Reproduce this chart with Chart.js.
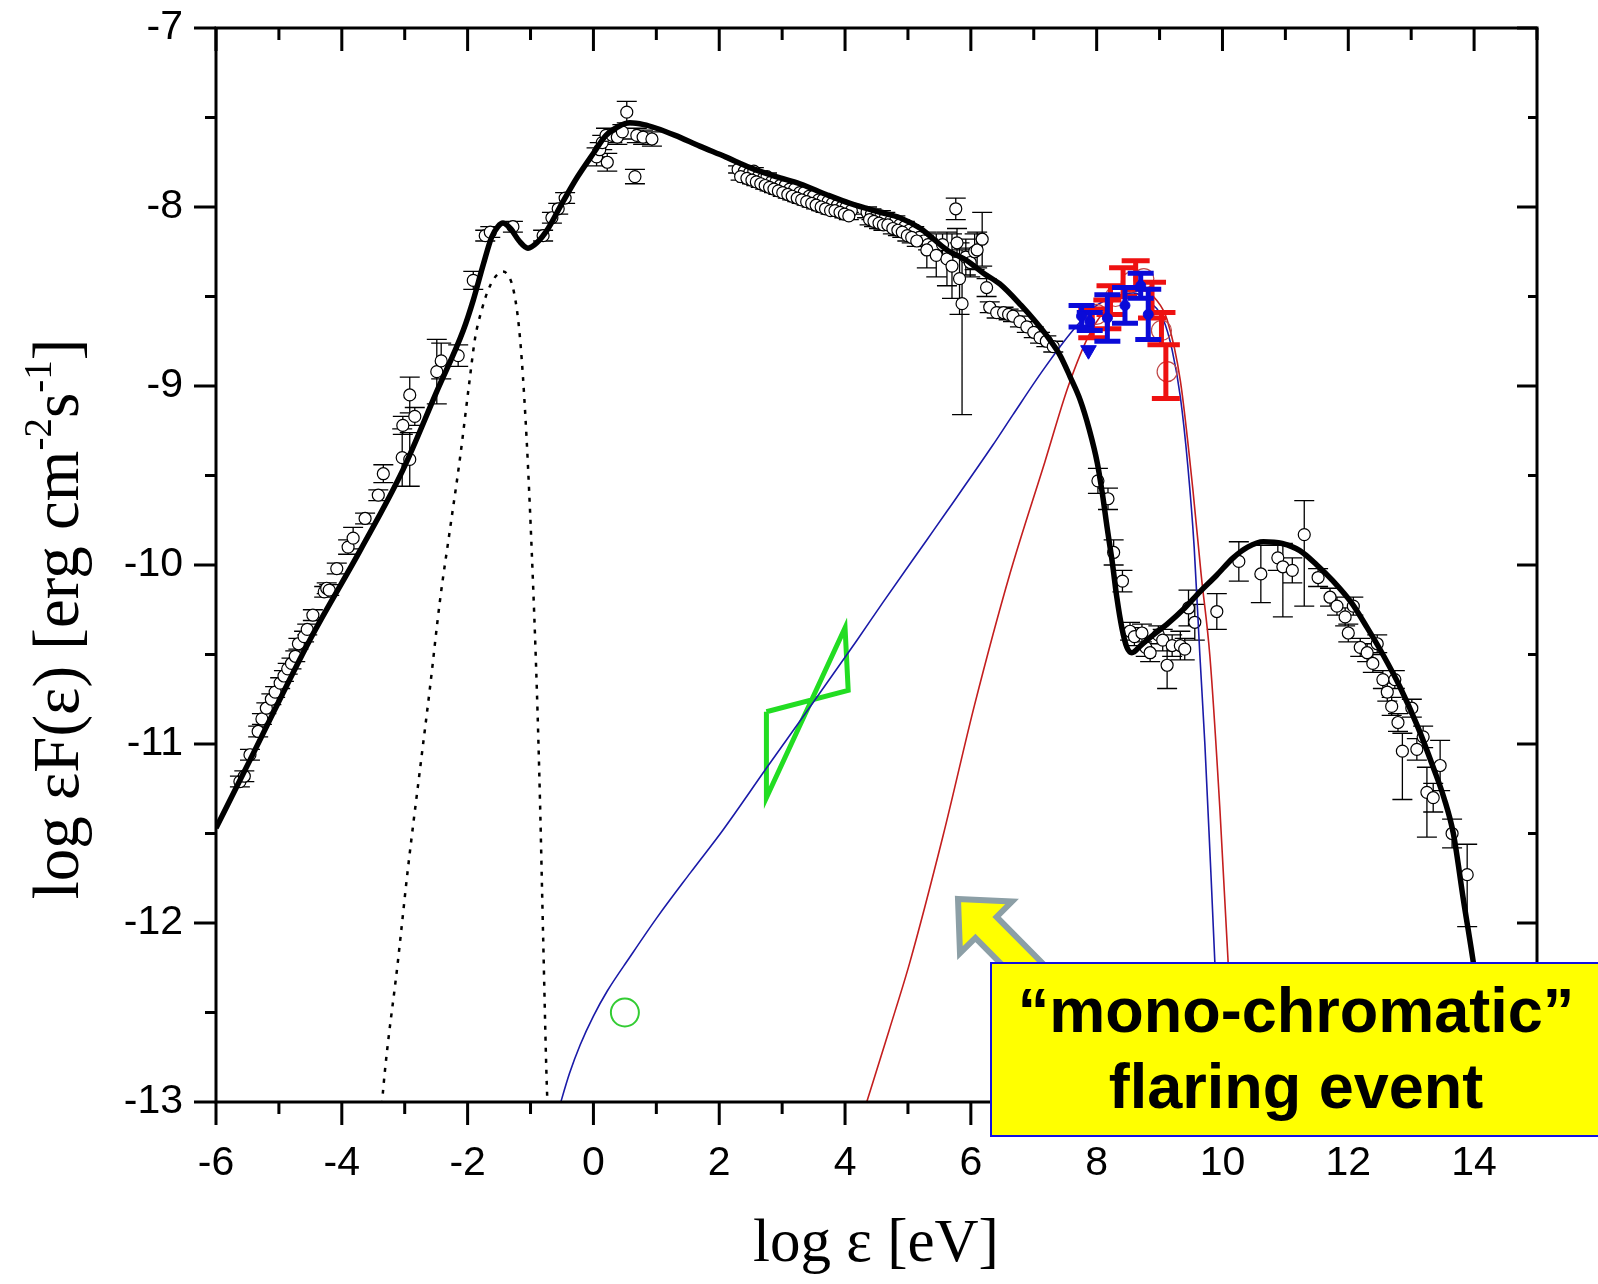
<!DOCTYPE html>
<html>
<head>
<meta charset="utf-8">
<title>SED flaring event</title>
<script src="https://cdn.jsdelivr.net/npm/chart.js@4.4.1/dist/chart.umd.min.js"></script>
<style>
  html, body { margin: 0; padding: 0; background: #fff; overflow: hidden; }
  #wrap { position: relative; width: 1598px; height: 1284px; }
  #sed { position: absolute; left: 0; top: 0; }
  #arrow { position: absolute; left: 0; top: 0; }
  #note {
    position: absolute; left: 990px; top: 962px; width: 612px; height: 175px;
    box-sizing: border-box; background: #ffff00; border: 2px solid #1010e0;
    font: bold 63px "Liberation Sans", Arial, sans-serif; line-height: 76px;
    text-align: center; padding-top: 8px; color: #000; white-space: nowrap;
  }
</style>
</head>
<body>
<div id="wrap">
  <canvas id="sed" width="1598" height="1284"></canvas>
  <svg id="arrow" width="1598" height="1284">
    <polygon points="958,899 1012,901.5 996.6,916.9 1052.6,973.5 1031.4,994.5 975.4,937.9 960,953"
             fill="#ffff00" stroke="#8c9fa6" stroke-width="6" stroke-linejoin="miter"/>
  </svg>
  <div id="note">“mono-chromatic”<br>flaring event</div>
</div>
<script>
// observed SED points (open circles) - log eps, log eps F(eps), error
const obsX = [
  // radio / mm
  -5.62, -5.55, -5.46, -5.33, -5.27, -5.20, -5.12, -5.06, -4.98, -4.92, -4.86, -4.80, -4.74, -4.69,
  -4.60, -4.55, -4.46, -4.28, -4.24, -4.20, -4.08, -3.90, -3.82, -3.63, -3.42, -3.34, -3.04, -2.92,
  -3.03, -2.84, -2.92, -2.49, -2.42, -2.15, -1.91, -1.72, -1.64, -1.28, -0.80, -0.66, -0.56, -0.45,
  // optical / UV
  0.05, 0.10, 0.14, 0.20, 0.22, 0.30, 0.38, 0.46, 0.53, 0.66, 0.69, 0.79, 0.93,
  // X-ray band
  2.30, 2.40, 2.48, 2.55, 2.62, 2.70, 2.76, 2.83, 2.90, 2.97, 3.05, 3.12, 3.20, 3.28, 3.35, 3.43,
  3.50, 3.58, 3.65, 3.73, 3.80, 3.88, 3.95, 4.02, 4.10,
  2.34, 2.44, 2.52, 2.59, 2.66, 2.73, 2.80, 2.87, 2.94, 3.01, 3.09, 3.16, 3.24, 3.31, 3.39, 3.47,
  3.54, 3.62, 3.69, 3.77, 3.84, 3.92, 3.99, 4.06,
  4.35, 4.42, 4.50, 4.57, 4.64, 4.72, 4.80, 4.87, 4.95, 5.02, 5.10, 5.18, 5.25, 5.32, 5.40,
  4.39, 4.46, 4.54, 4.61, 4.68, 4.76, 4.84, 4.91, 4.99, 5.06, 5.14,
  // hard X-ray
  5.30, 5.45, 5.55, 5.62, 5.70, 5.76, 5.78, 5.82, 5.86, 5.92, 5.99, 6.06, 6.10, 6.18, 6.25,
  6.30, 6.41, 6.52, 6.60, 6.67, 6.78, 6.89, 7.00, 7.10, 7.20, 7.31,
  // gamma-ray
  8.02, 8.18, 8.27, 8.41, 8.53, 8.60, 8.72, 8.78, 8.85, 8.98, 9.05, 9.12, 9.20, 9.33, 9.40, 9.46,
  9.56, 9.91,
  // TeV
  10.26, 10.61, 10.88, 10.96, 11.11, 11.30, 11.52, 11.71, 11.82, 11.95, 12.00, 12.08, 12.19, 12.30,
  12.39, 12.46, 12.55, 12.62, 12.69, 12.74, 12.79, 12.86, 13.01, 13.09, 13.19, 13.25, 13.35, 13.46,
  13.65, 13.89
];
const obsY = [
  -11.21, -11.18, -11.06, -10.93, -10.86, -10.80, -10.75, -10.71, -10.66, -10.62, -10.58, -10.55, -10.51, -10.44,
  -10.40, -10.36, -10.28, -10.15, -10.13, -10.14, -10.02, -9.90, -9.85, -9.74, -9.61, -9.49, -9.40, -9.41,
  -9.22, -9.17, -9.05, -8.92, -8.86, -8.83, -8.41, -8.16, -8.14, -8.11, -8.16, -8.06, -8.01, -7.95,
  -7.72, -7.68, -7.64, -7.60, -7.75, -7.60, -7.61, -7.58, -7.47, -7.83, -7.60, -7.61, -7.62,
  -7.79, -7.80, -7.81, -7.80, -7.83, -7.84, -7.83, -7.86, -7.86, -7.88, -7.88, -7.90, -7.90, -7.92, -7.92, -7.94,
  -7.94, -7.96, -7.96, -7.97, -7.98, -7.99, -8.00, -8.00, -8.02,
  -7.83, -7.84, -7.85, -7.86, -7.87, -7.88, -7.89, -7.90, -7.91, -7.92, -7.93, -7.94, -7.95, -7.96, -7.97, -7.98,
  -7.99, -8.00, -8.01, -8.02, -8.02, -8.03, -8.04, -8.05,
  -8.03, -8.04, -8.05, -8.05, -8.06, -8.08, -8.08, -8.10, -8.11, -8.13, -8.14, -8.17, -8.19, -8.21, -8.22,
  -8.07, -8.08, -8.09, -8.10, -8.10, -8.12, -8.13, -8.14, -8.16, -8.17, -8.19,
  -8.24, -8.27, -8.21, -8.29, -8.33, -8.01, -8.20, -8.40, -8.54, -8.28, -8.31, -8.25, -8.24, -8.18, -8.45,
  -8.56, -8.59, -8.59, -8.60, -8.61, -8.64, -8.67, -8.70, -8.73, -8.75, -8.78,
  -9.53, -9.63, -9.93, -10.09, -10.37, -10.40, -10.38, -10.46, -10.49, -10.39, -10.42, -10.56, -10.45, -10.45, -10.47, -10.24,
  -10.32, -10.26,
  -9.98, -10.05, -9.96, -10.01, -10.03, -9.83, -10.07, -10.18, -10.23, -10.29, -10.38, -10.23, -10.46, -10.49,
  -10.55, -10.44, -10.64, -10.71, -10.79, -10.64, -10.88, -11.04, -10.80, -11.03, -10.96, -11.27, -11.30, -11.12,
  -11.50, -11.73
];
// symmetric error, or [down, up]
const obsErr = [
  0.03, 0.03, 0.03, 0.03, 0.03, 0.03, 0.03, 0.03, 0.03, 0.03, 0.03, 0.03, 0.03, 0.03,
  0.03, 0.03, 0.03, 0.03, 0.03, 0.03, 0.03, 0.04, 0.06, 0.03, 0.03, 0.05, 0.16, 0.15,
  0.05, 0.05, 0.10, 0.18, 0.10, 0.06, 0.05, 0.03, 0.03, 0.03, 0.03, 0.03, 0.03, 0.03,
  0.05, 0.04, 0.04, 0.04, 0.05, 0.04, 0.04, 0.04, 0.06, 0.04, 0.04, 0.04, 0.04,
  0.02, 0.02, 0.02, 0.02, 0.02, 0.02, 0.02, 0.02, 0.02, 0.02, 0.02, 0.02, 0.02, 0.02, 0.02, 0.02,
  0.02, 0.02, 0.02, 0.02, 0.02, 0.02, 0.02, 0.02, 0.02,
  0.02, 0.02, 0.02, 0.02, 0.02, 0.02, 0.02, 0.02, 0.02, 0.02, 0.02, 0.02, 0.02, 0.02, 0.02, 0.02,
  0.02, 0.02, 0.02, 0.02, 0.02, 0.02, 0.02, 0.02,
  0.03, 0.03, 0.03, 0.03, 0.03, 0.03, 0.03, 0.03, 0.03, 0.03, 0.03, 0.03, 0.03, 0.03, 0.03,
  0.03, 0.03, 0.03, 0.03, 0.03, 0.03, 0.03, 0.03, 0.03, 0.03, 0.03,
  0.10, 0.12, 0.06, 0.15, 0.18, 0.06, 0.08, 0.20, [0.62, 0.30], 0.10, 0.08, 0.10, 0.10, 0.15, 0.05,
  0.03, 0.03, 0.03, 0.03, 0.03, 0.03, 0.03, 0.03, 0.03, 0.03, 0.03,
  0.07, 0.06, 0.07, 0.06, 0.05, 0.05, 0.05, 0.05, 0.05, 0.05, 0.06, 0.13, 0.06, 0.08, 0.06, 0.10,
  0.10, 0.10,
  0.11, 0.16, 0.07, [0.28, 0.13], 0.07, [0.40, 0.19], 0.05, 0.05, 0.05, 0.05, 0.05, 0.05, 0.05, 0.05,
  0.05, 0.05, 0.05, 0.05, 0.05, 0.05, 0.05, [0.27, 0.10], 0.05, 0.06, 0.06, [0.25, 0.14], 0.08, 0.14,
  0.08, [0.29, 0.17]
];

// flaring-state gamma-ray points
const redX = [7.93, 8.17, 8.22, 8.42, 8.62, 8.88, 9.03, 9.10];
const redY = [-8.65, -8.60, -8.52, -8.42, -8.38, -8.52, -8.68, -8.92];
const redErr = [0.08, 0.08, 0.08, 0.08, 0.08, 0.10, 0.09, 0.15];
const redRingX = [8.00, 8.30, 8.55, 8.75, 9.03, 9.12];
const redRingY = [-8.60, -8.50, -8.42, -8.40, -8.69, -8.92];
const blueX = [7.76, 7.89, 8.17, 8.45, 8.70, 8.82];
const blueY = [-8.61, -8.64, -8.62, -8.55, -8.44, -8.60];
const blueErr = [0.06, 0.05, 0.13, 0.10, 0.07, 0.14];
const blueLimitX = [7.87];
const blueLimitY = [-8.80];

// model curves
const modelX = [-6, -5.46, -4.51, -3.71, -3.03, -2.49, -2.07, -1.91, -1.75, -1.62, -1.52, -1.44, -1.32, -1.18,
  -1.04, -0.9, -0.72, -0.5, -0.25, 0.0, 0.2, 0.4, 0.58, 0.8, 1.0, 1.3, 1.69, 2.1, 2.49, 2.9, 3.28, 3.7,
  4.08, 4.56, 4.87, 5.2, 5.62, 5.94, 6.2, 6.46, 6.8, 7.05, 7.25, 7.42, 7.58, 7.74, 7.88, 8.01, 8.09, 8.17,
  8.25, 8.32, 8.4, 8.48, 8.56, 8.7, 8.9, 9.12, 9.4, 9.64, 9.9, 10.17, 10.4, 10.65, 10.95, 11.23, 11.5,
  11.76, 12.05, 12.3, 12.55, 12.82, 13.1, 13.35, 13.52, 13.67, 13.83, 14.0, 14.15, 14.3];
const modelY = [-11.47, -11.09, -10.42, -9.92, -9.47, -9.03, -8.69, -8.52, -8.32, -8.17, -8.11, -8.09, -8.12, -8.19,
  -8.23, -8.2, -8.12, -7.98, -7.83, -7.7, -7.6, -7.55, -7.53, -7.54, -7.56, -7.6, -7.66, -7.72, -7.78, -7.83, -7.87, -7.93,
  -7.98, -8.03, -8.06, -8.12, -8.24, -8.3, -8.37, -8.43, -8.55, -8.65, -8.74, -8.83, -8.95, -9.08, -9.24, -9.43, -9.6, -9.8,
  -9.99, -10.18, -10.35, -10.46, -10.49, -10.45, -10.39, -10.33, -10.24, -10.15, -10.06, -9.96, -9.9, -9.87, -9.88, -9.92, -10.0,
  -10.09, -10.21, -10.35, -10.5, -10.68, -10.9, -11.13, -11.3, -11.5, -11.87, -12.25, -12.65, -13.1];
const diskX = [-3.4, -3.34, -3.11, -2.95, -2.76, -2.6, -2.44, -2.28, -2.12, -1.98, -1.88, -1.78, -1.68, -1.58,
  -1.5, -1.44, -1.36, -1.28, -1.2, -1.14, -1.06, -0.98, -0.9, -0.85, -0.8, -0.74, -0.7];
const diskY = [-13.2, -12.92, -12.22, -11.7, -11.15, -10.69, -10.2, -9.8, -9.4, -9.0, -8.73, -8.58, -8.47, -8.4,
  -8.37, -8.36, -8.38, -8.45, -8.62, -8.85, -9.31, -9.93, -10.69, -11.31, -12.07, -12.92, -13.2];
const blueCurveX = [-0.56, -0.38, -0.21, 0.0, 0.22, 0.58, 1.01, 1.54, 2.06, 2.76, 3.49, 4.19, 4.6, 5.3, 5.62, 6.35,
  6.67, 7.15, 7.62, 8.0, 8.3, 8.58, 8.8, 9.06, 9.2, 9.33, 9.45, 9.55, 9.64, 9.72, 9.8, 9.88, 9.96];
const blueCurveY = [-13.05, -12.84, -12.68, -12.52, -12.38, -12.19, -11.97, -11.72, -11.48, -11.13, -10.77, -10.42, -10.21, -9.86, -9.7, -9.33,
  -9.16, -8.91, -8.69, -8.55, -8.5, -8.48, -8.52, -8.63, -8.8, -9.06, -9.45, -9.9, -10.5, -11.0, -11.6, -12.23, -13.0];
const redCurveX = [4.3, 4.7, 5.03, 5.56, 6.06, 6.62, 7.18, 7.55, 7.9, 8.2, 8.5, 8.7, 8.95, 9.12, 9.33, 9.53,
  9.66, 9.8, 9.96, 10.09, 10.2];
const redCurveY = [-13.05, -12.6, -12.22, -11.51, -10.78, -10.05, -9.42, -9.0, -8.7, -8.55, -8.47, -8.46, -8.52, -8.63, -8.97, -9.58,
  -10.05, -10.51, -11.37, -12.22, -13.0];

// optical-UV bow tie and single green point
const bowX = [2.75, 4.05, 4.0, 2.75, 2.75];
const bowY = [-10.82, -10.70, -10.35, -11.30, -10.82];
const greenX = [0.5];
const greenY = [-12.5];

const xTicks = [-6, -4, -2, 0, 2, 4, 6, 8, 10, 12, 14];
const yTicks = [-13, -12, -11, -10, -9, -8, -7];

const pts = (xs, ys) => xs.map((v, i) => ({ x: v, y: ys[i] }));

// error bars drawn just before their own dataset
const errorBars = {
  id: "errorBars",
  beforeDatasetDraw(chart, args) {
    const ds = chart.data.datasets[args.index];
    if (!ds.errors) return;
    const { ctx, chartArea: a, scales: { x, y } } = chart;
    ctx.save();
    ctx.beginPath();
    ctx.rect(a.left, a.top, a.right - a.left, a.bottom - a.top);
    ctx.clip();
    ctx.strokeStyle = ds.errColor;
    ctx.lineWidth = ds.errWidth;
    ctx.beginPath();
    ds.data.forEach((p, i) => {
      const e = ds.errors[i];
      const down = Array.isArray(e) ? e[0] : e;
      const up = Array.isArray(e) ? e[1] : e;
      const px = x.getPixelForValue(p.x);
      const y1 = y.getPixelForValue(p.y - down);
      const y2 = y.getPixelForValue(p.y + up);
      const c = ds.capHalf;
      ctx.moveTo(px, y1); ctx.lineTo(px, y2);
      ctx.moveTo(px - c, y1); ctx.lineTo(px + c, y1);
      ctx.moveTo(px - c, y2); ctx.lineTo(px + c, y2);
    });
    ctx.stroke();
    ctx.restore();
  },
};

// box, tick marks on all four sides and axis titles
const frame = {
  id: "frame",
  afterDraw(chart) {
    const { ctx, chartArea: a, scales: { x, y } } = chart;
    ctx.save();
    ctx.strokeStyle = "#000";
    ctx.lineWidth = 3;
    ctx.strokeRect(a.left, a.top, a.right - a.left, a.bottom - a.top);
    ctx.beginPath();
    for (let v = -13; v <= -7; v += 0.5) {
      const py = y.getPixelForValue(v);
      const len = Number.isInteger(v) ? 22 : 11;
      ctx.moveTo(a.left - len, py); ctx.lineTo(a.left, py);
      ctx.moveTo(a.right - len + 2, py); ctx.lineTo(a.right, py);
    }
    for (let v = -6; v <= 15; v++) {
      const px = x.getPixelForValue(v);
      const len = v % 2 === 0 ? 23 : 12;
      ctx.moveTo(px, a.bottom); ctx.lineTo(px, a.bottom + len);
      ctx.moveTo(px, a.top); ctx.lineTo(px, a.top + len);
    }
    ctx.stroke();

    ctx.fillStyle = "#000";
    ctx.textBaseline = "alphabetic";
    ctx.font = '61px "Liberation Serif"';
    ctx.textAlign = "center";
    ctx.fillText("log ε [eV]", 876, 1261);

    const parts = [
      ["log εF(ε) [erg cm", 65, 0],
      ["-2", 39, -27],
      ["s", 65, 0],
      ["-1", 39, -27],
      ["]", 65, 0],
    ];
    ctx.translate(78, 619);
    ctx.rotate(-Math.PI / 2);
    ctx.textAlign = "left";
    let total = 0;
    parts.forEach(([t, s]) => { ctx.font = s + 'px "Liberation Serif"'; total += ctx.measureText(t).width; });
    let cx = -total / 2;
    parts.forEach(([t, s, dy]) => {
      ctx.font = s + 'px "Liberation Serif"';
      ctx.fillText(t, cx, dy);
      cx += ctx.measureText(t).width;
    });
    ctx.restore();
  },
};

Chart.defaults.font.family = '"Liberation Sans", Arial, sans-serif';
Chart.defaults.color = "#000";

new Chart(document.getElementById("sed"), {
  type: "scatter",
  data: {
    datasets: [
      {
        label: "flare upper limit",
        data: pts(blueLimitX, blueLimitY),
        pointStyle: "triangle",
        rotation: 180,
        pointRadius: 9,
        backgroundColor: "#0a0ad8",
        borderColor: "#0a0ad8",
      },
      {
        label: "flare (blue)",
        data: pts(blueX, blueY),
        errors: blueErr,
        errColor: "#0a0ad8",
        errWidth: 5,
        capHalf: 13,
        pointRadius: 5,
        backgroundColor: "#0a0ad8",
        borderColor: "#0a0ad8",
      },
      {
        label: "flare (red)",
        data: pts(redX, redY),
        errors: redErr,
        errColor: "#ee1111",
        errWidth: 5,
        capHalf: 14,
        pointRadius: 0,
      },
      {
        label: "flare rings",
        data: pts(redRingX, redRingY),
        pointRadius: 10,
        borderWidth: 1.2,
        borderColor: "#c04848",
        backgroundColor: "rgba(0,0,0,0)",
      },
      {
        label: "total model",
        data: pts(modelX, modelY),
        showLine: true,
        borderColor: "#000",
        borderWidth: 5.5,
        pointRadius: 0,
        cubicInterpolationMode: "monotone",
      },
      {
        label: "blue model",
        data: pts(blueCurveX, blueCurveY),
        showLine: true,
        borderColor: "#1a1aa8",
        borderWidth: 1.6,
        pointRadius: 0,
        cubicInterpolationMode: "monotone",
      },
      {
        label: "red model",
        data: pts(redCurveX, redCurveY),
        showLine: true,
        borderColor: "#c41e1e",
        borderWidth: 1.6,
        pointRadius: 0,
        cubicInterpolationMode: "monotone",
      },
      {
        label: "disk",
        data: pts(diskX, diskY),
        showLine: true,
        borderColor: "#000",
        borderWidth: 2.5,
        borderDash: [4, 7],
        pointRadius: 0,
        cubicInterpolationMode: "monotone",
      },
      {
        label: "bow tie",
        data: pts(bowX, bowY),
        showLine: true,
        borderColor: "#22dd22",
        borderWidth: 5,
        borderJoinStyle: "miter",
        pointRadius: 0,
        tension: 0,
      },
      {
        label: "optical",
        data: pts(greenX, greenY),
        pointRadius: 14,
        borderWidth: 2,
        borderColor: "#33cc33",
        backgroundColor: "rgba(0,0,0,0)",
      },
      {
        label: "observed",
        data: pts(obsX, obsY),
        errors: obsErr,
        errColor: "#000",
        errWidth: 1.3,
        capHalf: 10,
        pointRadius: 6,
        borderWidth: 1.2,
        borderColor: "#000",
        backgroundColor: "#fff",
      },
    ],
  },
  options: {
    responsive: false,
    animation: false,
    devicePixelRatio: 1,
    events: [],
    layout: { padding: { top: 28, right: 61, left: 0, bottom: 0 } },
    plugins: {
      legend: { display: false },
      tooltip: { enabled: false },
    },
    scales: {
      x: {
        type: "linear",
        min: -6,
        max: 15,
        afterBuildTicks: (scale) => { scale.ticks = xTicks.map((v) => ({ value: v })); },
        afterFit: (scale) => { scale.height = 182; scale.paddingLeft = 0; scale.paddingRight = 0; },
        grid: { display: false, drawTicks: false },
        border: { display: false },
        ticks: { padding: 37, maxRotation: 0, autoSkip: false, font: { size: 41 }, color: "#000" },
      },
      y: {
        type: "linear",
        min: -13,
        max: -7,
        afterBuildTicks: (scale) => { scale.ticks = yTicks.map((v) => ({ value: v })); },
        afterFit: (scale) => { scale.width = 216; scale.paddingTop = 0; scale.paddingBottom = 0; },
        grid: { display: false, drawTicks: false },
        border: { display: false },
        ticks: { padding: 33, font: { size: 41 }, color: "#000" },
      },
    },
  },
  plugins: [errorBars, frame],
});
</script>
</body>
</html>
